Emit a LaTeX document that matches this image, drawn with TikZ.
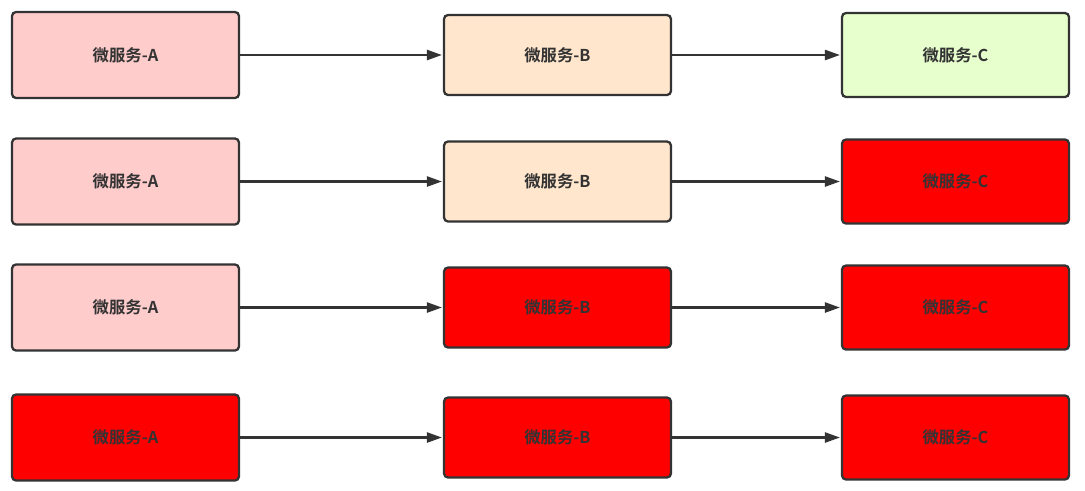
\documentclass[tikz,border=0pt]{standalone}
\usepackage{fontspec}
\usepackage{xcolor}
\usepackage{tikz}
\usetikzlibrary{positioning, arrows.meta, calc}
\newfontfamily\cjk{Noto Sans CJK SC}[BoldFont={Noto Sans CJK SC Bold}]
\definecolor{boxline}{HTML}{333333}
\definecolor{okpink}{HTML}{FFCCCC}
\definecolor{okorange}{HTML}{FFE6CC}
\definecolor{okgreen}{HTML}{E6FFCC}
\definecolor{downred}{HTML}{FF0000}
\tikzset{
  svcbox/.style={
    rectangle,
    draw=boxline,
    rounded corners=2.3pt,
    line width=1.3pt,
    minimum width=4.54cm,
    inner sep=0pt,
    align=center,
    text=boxline,
    font=\cjk\bfseries\fontsize{9.3pt}{11pt}\selectfont
  },
  svcA/.style={svcbox, minimum height=1.72cm},
  svcB/.style={svcbox, minimum height=1.60cm},
  svcC/.style={svcbox, minimum height=1.68cm},
  callarrow/.style={
    draw=boxline,
    line width=1.3pt,
    -{Triangle[length=0.3cm, width=0.2cm]},
    shorten >=0.5pt
  }
}
\begin{document}
\begin{tikzpicture}
  \useasboundingbox (0,0) rectangle (21.7,-9.8);
  % row 1: all healthy
  \node[svcA, fill=okpink]   (a1) at (2.51,-1.10)  {微服务-A};
  \node[svcB, fill=okorange] (b1) at (11.15,-1.10) {微服务-B};
  \node[svcC, fill=okgreen]  (c1) at (19.11,-1.10) {微服务-C};
  % row 2: C down
  \node[svcA, fill=okpink]   (a2) at (2.51,-3.63)  {微服务-A};
  \node[svcB, fill=okorange] (b2) at (11.15,-3.63) {微服务-B};
  \node[svcC, fill=downred]  (c2) at (19.11,-3.63) {微服务-C};
  % row 3: B and C down
  \node[svcA, fill=okpink]   (a3) at (2.51,-6.15)  {微服务-A};
  \node[svcB, fill=downred]  (b3) at (11.15,-6.15) {微服务-B};
  \node[svcC, fill=downred]  (c3) at (19.11,-6.15) {微服务-C};
  % row 4: everything down
  \node[svcA, fill=downred]  (a4) at (2.51,-8.75)  {微服务-A};
  \node[svcB, fill=downred]  (b4) at (11.15,-8.75) {微服务-B};
  \node[svcC, fill=downred]  (c4) at (19.11,-8.75) {微服务-C};
  \draw[callarrow] (a1.east) -- (b1.west);
  \draw[callarrow] (b1.east) -- (c1.west);
  \draw[callarrow] (a2.east) -- (b2.west);
  \draw[callarrow] (b2.east) -- (c2.west);
  \draw[callarrow] (a3.east) -- (b3.west);
  \draw[callarrow] (b3.east) -- (c3.west);
  \draw[callarrow] (a4.east) -- (b4.west);
  \draw[callarrow] (b4.east) -- (c4.west);
\end{tikzpicture}
\end{document}
